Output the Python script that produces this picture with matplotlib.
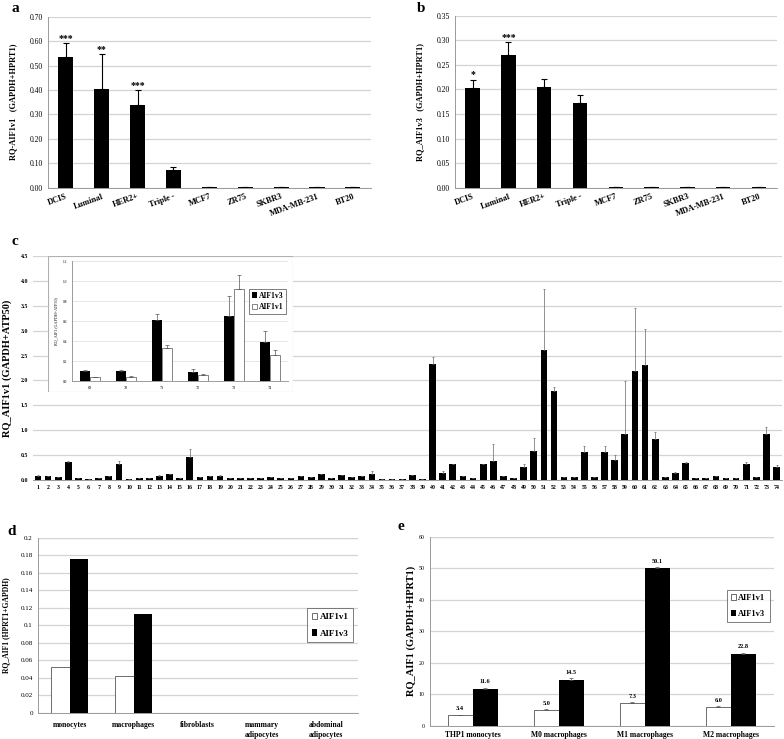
import numpy as np
import matplotlib
matplotlib.use("Agg")
import matplotlib.pyplot as plt
from matplotlib.patches import Rectangle
from matplotlib.ticker import FormatStrFormatter

plt.rcParams['font.family'] = ['Liberation Serif', 'DejaVu Serif']
plt.rcParams['font.weight'] = 'bold'
plt.rcParams['axes.labelweight'] = 'bold'

# ---- panel a / b : tissues and cell lines ----
groups_ab = ['DCIS', 'Luminal', 'HER2+', 'Triple -', 'MCF7', 'ZR75', 'SKBR3', 'MDA-MB-231', 'BT20']
a_vals = [0.536, 0.404, 0.337, 0.071, 0.003, 0.003, 0.003, 0.003, 0.003]
a_err = [0.055, 0.142, 0.061, 0.014, 0, 0, 0, 0, 0]
a_stars = ['***', '**', '***', '', '', '', '', '', '']
b_vals = [0.202, 0.271, 0.204, 0.173, 0.002, 0.002, 0.002, 0.002, 0.002]
b_err = [0.018, 0.025, 0.018, 0.016, 0, 0, 0, 0, 0]
b_stars = ['*', '***', '', '', '', '', '', '', '']

# ---- panel c : 74 samples ----
samples = list(range(1, 75))
c_vals = [0.09, 0.07, 0.06, 0.37, 0.03, 0.01, 0.03, 0.07, 0.33, 0.01,
          0.03, 0.03, 0.09, 0.13, 0.03, 0.46, 0.05, 0.08, 0.08, 0.03,
          0.03, 0.03, 0.04, 0.05, 0.03, 0.03, 0.09, 0.05, 0.13, 0.03,
          0.11, 0.05, 0.07, 0.13, 0.02, 0.02, 0.02, 0.10, 0.02, 2.33,
          0.15, 0.32, 0.07, 0.03, 0.33, 0.38, 0.07, 0.04, 0.27, 0.58,
          2.61, 1.79, 0.05, 0.05, 0.57, 0.05, 0.56, 0.40, 0.92, 2.20,
          2.32, 0.82, 0.06, 0.15, 0.34, 0.04, 0.04, 0.09, 0.03, 0.03,
          0.33, 0.06, 0.93, 0.27]
c_err = [0.02, 0.0, 0.0, 0.02, 0.0, 0.0, 0.0, 0.0, 0.06, 0.0,
         0.0, 0.0, 0.02, 0.0, 0.0, 0.17, 0.0, 0.0, 0.02, 0.0,
         0.0, 0.0, 0.0, 0.0, 0.0, 0.0, 0.0, 0.0, 0.0, 0.0,
         0.0, 0.0, 0.02, 0.06, 0.0, 0.0, 0.0, 0.0, 0.0, 0.15,
         0.04, 0.0, 0.0, 0.0, 0.0, 0.34, 0.0, 0.0, 0.06, 0.26,
         1.22, 0.07, 0.0, 0.0, 0.11, 0.0, 0.12, 0.10, 1.06, 1.25,
         0.72, 0.14, 0.0, 0.02, 0.03, 0.0, 0.0, 0.0, 0.0, 0.0,
         0.03, 0.0, 0.13, 0.04]

# ---- inset : samples 69-74 ----
inset_samples = ['69', '70', '71', '72', '73', '74']
inset_v3 = [0.10, 0.10, 0.61, 0.09, 0.65, 0.39]
inset_v3_err = [0.01, 0.01, 0.06, 0.03, 0.20, 0.11]
inset_v1 = [0.037, 0.04, 0.33, 0.063, 0.92, 0.26]
inset_v1_err = [0.003, 0.007, 0.03, 0.003, 0.14, 0.05]

# ---- panel d : primary cells ----
cells_d = ['monocytes', 'macrophages', 'fibroblasts', 'mammary\nadipocytes', 'abdominal\nadipocytes']
d_v1 = [0.0524, 0.0415, 0, 0, 0]
d_v3 = [0.1755, 0.1133, 0, 0, 0]

# ---- panel e : THP1 derived ----
cells_e = ['THP1 monocytes', 'M0 macrophages', 'M1 macrophages', 'M2 macrophages']
e_v1 = [3.4, 5.0, 7.3, 6.0]
e_v1_err = [0.15, 0.3, 0.2, 0.15]
e_v3 = [11.6, 14.5, 50.1, 22.8]
e_v3_err = [0.5, 0.5, 0.4, 0.4]

GRID = '#d4d4d4'
AXC = '#9a9a9a'


def up(err):
    # error bars drawn only above the bar
    return [np.zeros(len(err)), err]


def style_axes(ax):
    ax.set_axisbelow(True)
    ax.yaxis.grid(True, color=GRID, linewidth=0.9)
    for s in ['top', 'right']:
        ax.spines[s].set_visible(False)
    ax.spines['left'].set_color(AXC)
    ax.spines['bottom'].set_color(AXC)
    ax.spines['left'].set_linewidth(0.7)
    ax.spines['bottom'].set_linewidth(0.7)
    ax.tick_params(length=0)


fig = plt.figure(figsize=(7.84, 7.39), dpi=100)

# panel a
ax_a = fig.add_axes([0.061, 0.746, 0.412, 0.2314])
x = np.arange(len(groups_ab))
ax_a.bar(x, a_vals, width=0.42, color='black', yerr=up(a_err),
         error_kw=dict(ecolor='black', elinewidth=0.8, capsize=2, capthick=0.8))
for xi, v, e, s in zip(x, a_vals, a_err, a_stars):
    if s:
        ax_a.text(xi, v + e + 0.003, s, ha='center', va='bottom', fontsize=7)
ax_a.set_xlim(-0.5, len(groups_ab) - 0.5)
ax_a.set_ylim(0, 0.70)
ax_a.set_yticks(np.arange(0, 0.71, 0.10))
ax_a.yaxis.set_major_formatter(FormatStrFormatter('%.2f'))
ax_a.set_xticks(x)
ax_a.set_xticklabels(groups_ab, rotation=20, ha='right', rotation_mode='anchor', fontsize=6)
ax_a.tick_params(axis='y', labelsize=5.5)
for lab in ax_a.get_yticklabels():
    lab.set_fontweight('normal')
ax_a.set_ylabel('RQ-AIF1v1   (GAPDH+HPRT1)', fontsize=6, labelpad=9)
style_axes(ax_a)
fig.text(0.015, 0.984, 'a', fontsize=11, fontweight='bold')

# panel b
ax_b = fig.add_axes([0.58, 0.746, 0.411, 0.2327])
ax_b.bar(x, b_vals, width=0.40, color='black', yerr=up(b_err),
         error_kw=dict(ecolor='black', elinewidth=0.8, capsize=2, capthick=0.8))
for xi, v, e, s in zip(x, b_vals, b_err, b_stars):
    if s:
        ax_b.text(xi, v + e + 0.0015, s, ha='center', va='bottom', fontsize=7)
ax_b.set_xlim(-0.5, len(groups_ab) - 0.5)
ax_b.set_ylim(0, 0.35)
ax_b.set_yticks(np.arange(0, 0.351, 0.05))
ax_b.yaxis.set_major_formatter(FormatStrFormatter('%.2f'))
ax_b.set_xticks(x)
ax_b.set_xticklabels(groups_ab, rotation=20, ha='right', rotation_mode='anchor', fontsize=6)
ax_b.tick_params(axis='y', labelsize=5.5)
for lab in ax_b.get_yticklabels():
    lab.set_fontweight('normal')
ax_b.set_ylabel('RQ_AIF1v3   (GAPDH+HPRT1)', fontsize=6, labelpad=9)
style_axes(ax_b)
fig.text(0.532, 0.984, 'b', fontsize=11, fontweight='bold')

# panel c
ax_c = fig.add_axes([0.042, 0.3505, 0.955, 0.303])
xc = np.arange(len(samples))
ax_c.bar(xc, c_vals, width=0.66, color='black', yerr=up(c_err),
         error_kw=dict(ecolor='#666666', elinewidth=0.5, capsize=1, capthick=0.5))
ax_c.set_xlim(-0.5, len(samples) - 0.5)
ax_c.set_ylim(0, 4.5)
ax_c.set_yticks(np.arange(0, 4.51, 0.5))
ax_c.yaxis.set_major_formatter(FormatStrFormatter('%.1f'))
ax_c.set_xticks(xc)
ax_c.set_xticklabels([str(s) for s in samples], fontsize=4.2)
ax_c.tick_params(axis='y', labelsize=4.2)
ax_c.set_ylabel('RQ_AIF1v1 (GAPDH+ATP50)', fontsize=7.5, labelpad=6)
style_axes(ax_c)
ax_c.spines['left'].set_visible(False)
fig.text(0.015, 0.668, 'c', fontsize=11, fontweight='bold')

# inset frame
frame = fig.add_axes([0.0612, 0.4696, 0.3125, 0.184])
frame.axis('off')
frame.add_patch(Rectangle((0, 0), 1, 1, transform=frame.transAxes, facecolor='white',
                          edgecolor='#b0b0b0', linewidth=0.8))

ax_i = fig.add_axes([0.0918, 0.4844, 0.2755, 0.1624])
xi_ = np.arange(len(inset_samples))
bw = 0.29
ax_i.bar(xi_ - bw / 2, inset_v3, width=bw, color='black', yerr=up(inset_v3_err), label='AIF1v3',
         error_kw=dict(ecolor='#555555', elinewidth=0.5, capsize=1.2, capthick=0.5))
ax_i.bar(xi_ + bw / 2, inset_v1, width=bw, color='white', edgecolor='#555555', linewidth=0.5,
         yerr=up(inset_v1_err), label='AIF1v1',
         error_kw=dict(ecolor='#555555', elinewidth=0.5, capsize=1.2, capthick=0.5))
ax_i.set_xlim(-0.5, len(inset_samples) - 0.5)
ax_i.set_ylim(0, 1.2)
ax_i.set_yticks(np.arange(0, 1.21, 0.2))
ax_i.yaxis.set_major_formatter(FormatStrFormatter('%.1f'))
ax_i.set_xticks(xi_)
ax_i.set_xticklabels(inset_samples, fontsize=3)
ax_i.tick_params(axis='y', labelsize=2.6)
for lab in ax_i.get_yticklabels() + ax_i.get_xticklabels():
    lab.set_fontweight('normal')
ax_i.set_ylabel('RQ_AIF1 (GAPDH+ATP50)', fontsize=3, fontweight='normal', labelpad=3)
style_axes(ax_i)
ax_i.yaxis.grid(True, color='#e2e2e2', linewidth=0.6)
leg = ax_i.legend(loc='upper right', bbox_to_anchor=(1.01, 0.8), fontsize=5.5, frameon=True,
                  fancybox=False, edgecolor='#444444', handlelength=0.6, handletextpad=0.3,
                  borderpad=0.35, labelspacing=0.5)
leg.get_frame().set_linewidth(0.6)

# panel d
ax_d = fig.add_axes([0.048, 0.0356, 0.4086, 0.2364])
xd = np.arange(len(cells_d))
bw_d = 0.29
ax_d.bar(xd - bw_d / 2, d_v1, width=bw_d, color='white', edgecolor='#555555', linewidth=0.6, label='AIF1v1')
ax_d.bar(xd + bw_d / 2, d_v3, width=bw_d, color='black', label='AIF1v3')
ax_d.set_xlim(-0.5, len(cells_d) - 0.5)
ax_d.set_ylim(0, 0.2)
ax_d.set_yticks(np.arange(0, 0.201, 0.02))
ax_d.set_yticklabels(['0', '0.02', '0.04', '0.06', '0.08', '0.1', '0.12', '0.14', '0.16', '0.18', '0.2'])
ax_d.set_xticks(xd)
ax_d.set_xticklabels(cells_d, fontsize=5.5, linespacing=1.4)
ax_d.tick_params(axis='y', labelsize=5)
ax_d.tick_params(axis='x', pad=6)
for lab in ax_d.get_yticklabels():
    lab.set_fontweight('normal')
ax_d.set_ylabel('RQ_AIF1 (HPRT1+GAPDH)', fontsize=5.5, labelpad=7)
style_axes(ax_d)
ax_d.axhline(0.2, color=GRID, linewidth=0.9, zorder=0)
leg = ax_d.legend(loc='center right', bbox_to_anchor=(1.0, 0.5), fontsize=6.5, frameon=True,
                  fancybox=False, edgecolor='#444444', handlelength=0.6, handletextpad=0.3,
                  borderpad=0.5, labelspacing=0.9)
leg.get_frame().set_linewidth(0.6)
fig.text(0.01, 0.276, 'd', fontsize=11, fontweight='bold')

# panel e
ax_e = fig.add_axes([0.548, 0.018, 0.439, 0.2557])
xe = np.arange(len(cells_e))
bw_e = 0.29
ax_e.bar(xe - bw_e / 2, e_v1, width=bw_e, color='white', edgecolor='#555555', linewidth=0.6,
         yerr=up(e_v1_err), label='AIF1v1',
         error_kw=dict(ecolor='#555555', elinewidth=0.5, capsize=1.2, capthick=0.5))
ax_e.bar(xe + bw_e / 2, e_v3, width=bw_e, color='black', yerr=up(e_v3_err), label='AIF1v3',
         error_kw=dict(ecolor='#555555', elinewidth=0.5, capsize=1.2, capthick=0.5))
for xx, v, e in zip(xe - bw_e / 2, e_v1, e_v1_err):
    ax_e.text(xx, v + e + 1.0, f'{v:.1f}', ha='center', va='bottom', fontsize=4.5)
for xx, v, e in zip(xe + bw_e / 2, e_v3, e_v3_err):
    ax_e.text(xx, v + e + 1.0, f'{v:.1f}', ha='center', va='bottom', fontsize=4.5)
ax_e.set_xlim(-0.5, len(cells_e) - 0.5)
ax_e.set_ylim(0, 60)
ax_e.set_yticks(np.arange(0, 61, 10))
ax_e.set_xticks(xe)
ax_e.set_xticklabels(cells_e, fontsize=5.5)
ax_e.tick_params(axis='y', labelsize=4.2)
for lab in ax_e.get_yticklabels():
    lab.set_fontweight('normal')
ax_e.set_ylabel('RQ_AIF1 (GAPDH+HPRT1)', fontsize=7.5, labelpad=2)
style_axes(ax_e)
ax_e.axhline(60, color=GRID, linewidth=0.9, zorder=0)
leg = ax_e.legend(loc='upper right', bbox_to_anchor=(1.0, 0.74), fontsize=6, frameon=True,
                  fancybox=False, edgecolor='#444444', handlelength=0.6, handletextpad=0.3,
                  borderpad=0.5, labelspacing=0.9)
leg.get_frame().set_linewidth(0.6)
fig.text(0.507, 0.283, 'e', fontsize=11, fontweight='bold')

fig.savefig('out.png', dpi=100)
